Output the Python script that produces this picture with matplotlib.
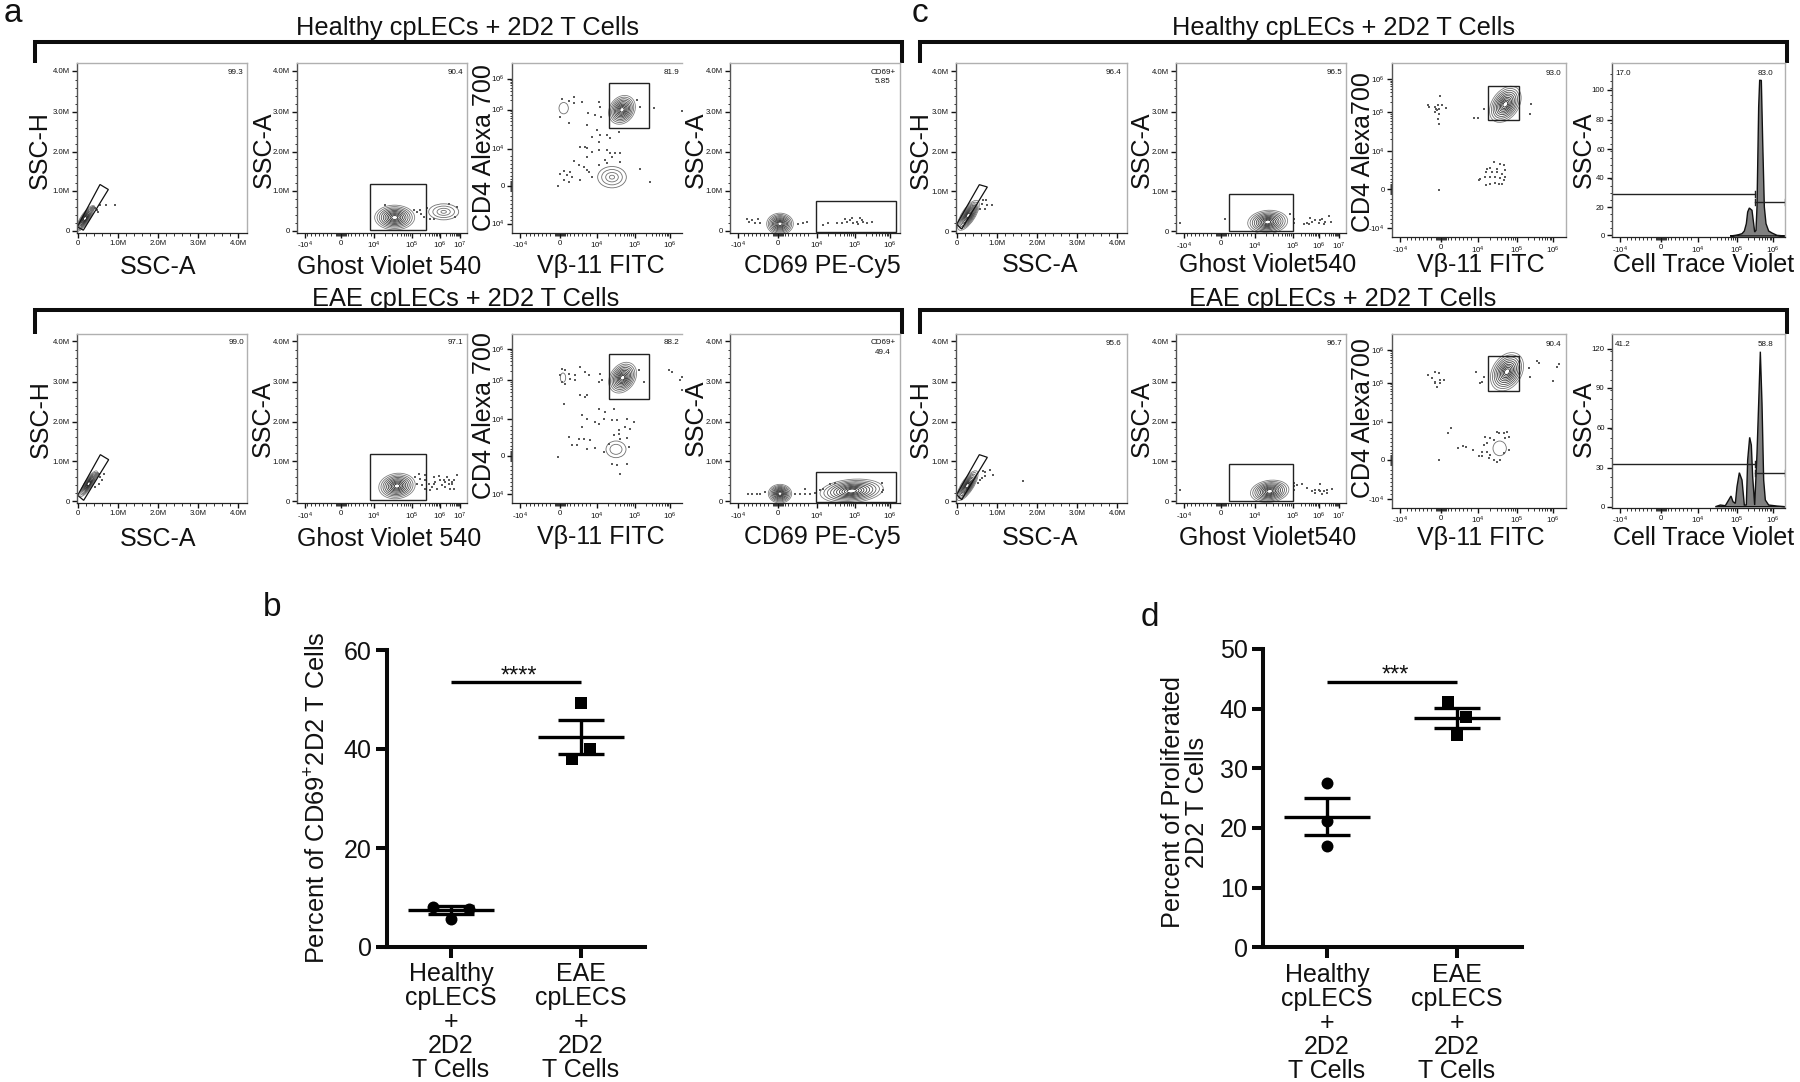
import numpy as np
import matplotlib
matplotlib.use("Agg")
import matplotlib.pyplot as plt
from matplotlib.patches import Ellipse, Polygon, Rectangle

plt.rcParams['font.family'] = ['Liberation Sans', 'DejaVu Sans']
plt.rcParams['mathtext.fontset'] = 'custom'
plt.rcParams['mathtext.rm'] = 'Liberation Sans'
plt.rcParams['mathtext.it'] = 'Liberation Sans'
plt.rcParams['mathtext.bf'] = 'Liberation Sans'
plt.rcParams['mathtext.default'] = 'regular'

W, H = 1800, 1082

# ---------- bottom summary charts ----------
groups = ["Healthy\ncpLECS\n+\n2D2\nT Cells", "EAE\ncpLECS\n+\n2D2\nT Cells"]
b_healthy_x = [-0.14, 0.14, 0.0]
b_healthy_y = [8.1, 7.7, 5.7]
b_eae_x = [0.0, 0.07, -0.07]
b_eae_y = [49.2, 40.1, 37.9]
b_means = [7.5, 42.5]
b_sems = [0.8, 3.45]
d_healthy_x = [0.0, 0.0, 0.0]
d_healthy_y = [27.5, 21.2, 16.9]
d_eae_x = [-0.07, 0.07, 0.0]
d_eae_y = [41.1, 38.6, 35.6]
d_means = [21.9, 38.4]
d_sems = [3.1, 1.65]

# ---------- flow panel text ----------
heading_healthy = "Healthy cpLECs + 2D2 T Cells"
heading_eae = "EAE cpLECs + 2D2 T Cells"
ssc_labels = ["0", "1.0M", "2.0M", "3.0M", "4.0M"]
bi5_labels = ["-10$^{4}$", "0", "10$^{4}$", "10$^{5}$", "10$^{6}$"]
bi6_labels = ["-10$^{4}$", "0", "10$^{4}$", "10$^{5}$", "10$^{6}$", "10$^{7}$"]
ssc_pos = [1, 41, 81, 121, 161]
ssc_y_pos = [2, 42, 81, 121, 162]
ghost_pos = [8, 44, 77, 115, 143, 163]
ghost_c_pos = [8, 45, 79, 117, 143, 163]
vb_pos = [8, 48, 85, 123, 158]
cd4_pos = [9, 47, 84, 123, 154]
cd69_pos = [8, 48, 87, 125, 160]
c_vb_pos = [8, 49, 86, 125, 161]
c_cd4_pos = [9, 48, 86, 125, 158]
hist_y1_pos = [2, 30, 59, 88, 117, 147]
hist_y1_lab = ["0", "20", "40", "60", "80", "100"]
hist_y2_pos = [1, 40, 80, 120, 159]
hist_y2_lab = ["0", "30", "60", "90", "120"]

# ---------- in crop units (3 per pixel) ----------
DENSE = [1, .88, .77, .67, .57, .48, .39, .31, .23, .15, .07]
MID = [1, .78, .58, .4, .22, .08]
SPARSE = [1, .72, .44, .18]
RING = [1]

a1_dots = [(300,615),(318,615),(345,615),(290,630),(270,640),(285,622),(295,635)]
a2_dots = [(1250,635),(1262,640),(1270,650),(1290,655),(1370,620),(1365,650),(1155,615),(1240,630),(1260,630),(1280,622),(1300,655),(1345,612)]
a3_dots = [(275,178),(295,182),(310,170),(312,188),(335,185),(295,250),(270,230),(385,187),(390,200),(352,218),(375,225),(392,232),(350,256),(380,270),(390,285),(410,285),(420,295),(365,290),(385,305),(350,325),(330,320),(345,320),(365,335),(385,330),(410,330),(420,340),(435,340),(450,340),(450,365),(425,350),(405,360),(350,350),(310,362),(325,375),(340,382),(350,390),(385,375),(410,370),(280,392),(300,395),(270,403),(290,405),(305,410),(280,420),(295,425),(330,420),(355,395),(510,388),(540,425),(262,438),(500,180),(550,205),(635,212),(508,200),(365,412),(445,275)]
a4_dots = [(830,538),(838,545),(845,540),(855,550),(865,538),(870,550),(985,552),(1000,548),(1010,545),(1060,555),(1075,548),(1100,550),(1115,548),(1130,545),(1140,540),(1150,550),(1160,545),(1170,535),(1180,545),(1190,548),(1205,545),(1145,535),(1175,540),(1165,552),(1125,538)]
a5_dots = [(240,470),(250,460),(245,480),(235,490),(225,500),(235,460),(220,480)]
a6_dots = [(1185,470),(1200,475),(1215,480),(1190,490),(1205,495),(1215,505),(1225,490),(1240,470),(1255,468),(1270,480),(1280,470),(1295,490),(1300,478),(1310,465),(1235,500),(1250,505),(1265,495),(1275,500),(1290,505),(1300,505),(1245,485),(1260,480),(1285,490),(1230,510),(1215,465),(1195,460),(1240,490),(1295,485),(1275,485),(1285,478)]
a7_dots = [(275,145),(285,150),(270,165),(295,160),(275,185),(285,190),(300,175),(315,180),(330,140),(345,155),(355,165),(315,165),(390,160),(385,185),(395,180),(330,225),(350,225),(345,230),(280,250),(385,265),(405,275),(430,265),(335,285),(350,295),(335,320),(375,305),(385,310),(400,295),(425,300),(440,300),(470,295),(490,305),(465,320),(480,325),(445,340),(430,345),(450,355),(470,352),(295,350),(325,355),(340,355),(360,360),(305,375),(320,375),(350,385),(375,382),(400,395),(415,372),(475,380),(440,435),(425,430),(470,430),(450,460),(520,185),(505,150),(595,148),(605,155),(628,178),(635,170),(635,210),(262,410),(445,330)]
a8_dots = [(835,520),(845,520),(860,520),(870,520),(885,515),(975,520),(990,520),(1005,520),(1020,522),(1035,518),(1050,510),(1060,505),(1080,490),(1095,488),(1005,505),(1235,488),(1240,510),(1235,515)]
c1_dots = [(228,480),(232,495),(245,495),(225,507),(215,490),(210,505),(220,480)]
c2_dots = [(810,548),(945,537),(1150,535),(1150,548),(1140,520),(1180,552),(1190,548),(1200,532),(1205,545),(1215,540),(1225,548),(1235,535),(1245,545),(1255,528),(1262,545),(1240,552),(1230,540),(1195,550)]
c3_dots = [(263,195),(265,200),(285,200),(300,167),(293,195),(305,195),(316,203),(290,210),(285,215),(295,220),(293,235),(295,250),(288,205),(295,205),(400,233),(413,233),(430,207),(572,192),(570,222),(295,448),(462,365),(480,370),(490,375),(440,385),(450,382),(470,385),(495,390),(438,395),(455,395),(470,395),(485,400),(415,420),(435,410),(450,410),(465,410),(480,412),(495,410),(420,415),(438,433),(450,430),(465,428),(475,430),(485,430),(490,418)]
c5_dots = [(205,490),(215,475),(225,470),(240,450),(248,465),(218,455),(225,458),(210,480),(340,483)]
c6_dots = [(810,510),(1150,490),(1150,500),(1160,495),(1150,512),(1175,493),(1190,505),(1205,515),(1215,520),(1230,492),(1225,510),(1240,515),(1250,510),(1265,507),(1235,522),(1250,520),(1215,510),(1230,515)]
c7_dots = [(263,165),(285,155),(295,160),(275,175),(285,185),(300,180),(310,180),(283,190),(290,200),(300,190),(407,157),(430,170),(425,185),(418,190),(565,145),(570,170),(590,122),(597,130),(650,140),(657,133),(637,183),(333,323),(323,338),(352,385),(367,378),(378,382),(397,390),(295,420),(470,335),(475,340),(490,340),(500,335),(505,350),(495,355),(460,360),(450,355),(435,352),(440,370),(430,375),(425,395),(440,395),(450,405),(425,408),(415,408),(445,415),(460,420),(470,425),(480,420),(490,400),(505,390)]

c4_hist = [(1170,587),(1185,585),(1195,583),(1205,580),(1212,572),(1218,550),(1222,515),(1227,503),(1235,510),(1240,550),(1243,575),(1247,570),(1250,500),(1255,200),(1258,120),(1263,120),(1267,300),(1272,500),(1277,550),(1285,572),(1295,578),(1310,585),(1335,587)]
c8_hist = [(1125,560),(1140,555),(1155,557),(1165,540),(1172,528),(1178,545),(1185,550),(1190,500),(1197,458),(1205,480),(1212,555),(1218,555),(1222,420),(1228,352),(1233,375),(1237,470),(1243,555),(1250,400),(1255,250),(1260,95),(1265,250),(1270,480),(1275,540),(1285,555),(1310,558),(1335,560)]

fsc_gate_a1 = [(232,680),(250,690),(325,568),(300,553)]
fsc_gate_a5 = [(172,525),(190,540),(265,418),(240,403)]
fsc_gate_c1 = [(140,552),(155,566),(232,440),(208,433)]
fsc_gate_c5 = [(140,525),(155,540),(232,413),(208,405)]

PANELS = [
 dict(box=(77,63,247,232.5), o=(231,697), kind='ssc', blobs=[(255,655,45,13,57,DENSE),(278,625,9,5,57,MID)], poly=fsc_gate_a1, dots=a1_dots, notes=[("99.3",705,218)]),
 dict(box=(297,63,467,232.5), o=(890,697), kind='ghost', xp=ghost_pos, blobs=[(1183,652,60,37,0,DENSE),(1330,635,45,24,0,SPARSE)], rect=(1108,550,1277,689), dots=a2_dots, notes=[("90.4",1365,218)]),
 dict(box=(512,63,682,232.5), o=(125,578), kind='cd4', xp=vb_pos, yp=cd4_pos, blobs=[(455,210,46,37,55,DENSE),(280,205,14,17,0,RING),(425,412,43,32,0,SPARSE)], rect=(416,130,536,265), dots=a3_dots, notes=[("81.9",603,98)], noright=True),
 dict(box=(730,63,900,232.5), o=(780,578), kind='ghost', xp=cd69_pos, blobs=[(930,552,40,32,0,DENSE)], rect=(1037,484,1277,575), dots=a4_dots, notes=[("CD69+",1240,98),("5.85",1238,125)]),
 dict(box=(77,333.5,247,503), o=(170,548), kind='ssc', blobs=[(205,490,45,12,57,DENSE),(228,465,10,5,57,MID)], poly=fsc_gate_a5, dots=a5_dots, notes=[("99.0",648,68)]),
 dict(box=(297,333.5,467,503), o=(830,548), kind='ghost', xp=ghost_pos, blobs=[(1130,497,55,38,8,DENSE)], rect=(1049,400,1217,539), dots=a6_dots, notes=[("97.1",1305,68)]),
 dict(box=(512,333.5,682,503), o=(125,548), kind='cd4', xp=vb_pos, yp=cd4_pos, blobs=[(457,172,50,37,55,DENSE),(278,172,8,14,0,RING),(437,387,30,25,0,[1,.6])], rect=(416,100,536,235), dots=a7_dots, notes=[("88.2",602,68)], noright=True),
 dict(box=(730,333.5,900,503), o=(780,548), kind='ghost', xp=cd69_pos, blobs=[(930,520,35,28,0,DENSE),(1145,512,95,35,5,DENSE)], rect=(1037,454,1277,545), dots=a8_dots, notes=[("CD69+",1240,68),("49.4",1238,95)]),
 dict(box=(956,63,1127,233), o=(138,578), kind='ssc', blobs=[(175,525,52,20,57,DENSE),(192,505,12,8,57,SPARSE)], poly=fsc_gate_c1, dots=c1_dots, notes=[("96.4",612,98)]),
 dict(box=(1176,63,1346,233), o=(797,578), kind='ghost', xp=ghost_c_pos, blobs=[(1072,545,60,35,5,DENSE)], rect=(955,462,1147,573), dots=c2_dots, notes=[("96.5",1272,98)]),
 dict(box=(1392,63,1566,237), o=(155,590), kind='cd4', xp=c_vb_pos, yp=c_cd4_pos, blobs=[(495,192,60,40,55,DENSE)], rect=(442,137,536,240), dots=c3_dots, notes=[("93.0",640,100)]),
 dict(box=(1612,63,1785,237), o=(815,590), kind='hist', xp=c_vb_pos, yp=hist_y1_pos, yl=hist_y1_lab, hist=c4_hist, gates=[(815,1243,460),(1243,1335,486)], notes=[("17.0",848,100),("83.0",1275,100)]),
 dict(box=(956,334,1127,503), o=(138,550), kind='ssc', blobs=[(172,498,52,18,57,DENSE)], poly=fsc_gate_c5, dots=c5_dots, notes=[("95.6",612,71)]),
 dict(box=(1176,334,1346,503), o=(797,550), kind='ghost', xp=ghost_c_pos, blobs=[(1078,515,58,33,8,DENSE)], rect=(955,434,1147,545), dots=c6_dots, notes=[("96.7",1272,71)]),
 dict(box=(1392,334,1566,507.7), o=(155,563), kind='cd4', xp=c_vb_pos, yp=c_cd4_pos, blobs=[(500,155,62,44,58,DENSE),(478,385,20,22,0,RING)], rect=(442,108,536,212), dots=c7_dots, notes=[("90.4",640,73)]),
 dict(box=(1612,334,1785,507.7), o=(815,563), kind='hist', xp=c_vb_pos, yp=hist_y2_pos, yl=hist_y2_lab, hist=c8_hist, gates=[(815,1243,433),(1243,1335,459)], notes=[("41.2",847,73),("58.8",1275,73)]),
]

# big axis labels: text, x centre, y centre (figure pixels)
XLABELS = [("SSC-A",158,267),("Ghost Violet 540",389,267),("V\u03b2-11 FITC",601,266),("CD69 PE-Cy5",822,266),
           ("SSC-A",158,539),("Ghost Violet 540",389,539),("V\u03b2-11 FITC",601,537),("CD69 PE-Cy5",822,537),
           ("SSC-A",1040,265),("Ghost Violet540",1268,265),("V\u03b2-11 FITC",1481,265),("Cell Trace Violet",1704,265),
           ("SSC-A",1040,538),("Ghost Violet540",1268,538),("V\u03b2-11 FITC",1481,538),("Cell Trace Violet",1704,538)]
YLABELS = [("SSC-H",40,150),("SSC-A",264,150),("CD4 Alexa 700",484,148),("SSC-A",696,150),
           ("SSC-H",41,419),("SSC-A",263,419),("CD4 Alexa 700",484,416),("SSC-A",696,418),
           ("SSC-H",921,150),("SSC-A",1142,150),("CD4 Alexa700",1363,152),("SSC-A",1584,150),
           ("SSC-H",921,419),("SSC-A",1142,419),("CD4 Alexa700",1363,418),("SSC-A",1584,419)]
HEADINGS = [(heading_healthy,467,28),(heading_eae,466,299),(heading_healthy,1344,28),(heading_eae,1343,299)]
BRACKETS = [(35,902,42,63),(35,902,310,334),(920,1787,42,63),(920,1787,310,334)]
LETTERS = [("a",13,14),("b",272,607),("c",920,14),("d",1150,617)]
CONTOUR_SHADES = ['#808080', '#6e6e6e', '#5e5e5e', '#505050', '#454545', '#3c3c3c', '#343434', '#2e2e2e', '#2a2a2a', '#262626', '#ffffff']

fig = plt.figure(figsize=(W/100, H/100), dpi=100, facecolor='white')
ov = fig.add_axes([0, 0, 1, 1], zorder=0)
ov.set_xlim(0, W); ov.set_ylim(H, 0); ov.axis('off')

for x0, x1, yt, yb in BRACKETS:
    ov.plot([x0, x0, x1, x1], [yb, yt, yt, yb], color='#0d0d0d', lw=2.9, solid_joinstyle='miter', solid_capstyle='butt')
for s, x, y in HEADINGS:
    ov.text(x, y, s, fontsize=18.3, ha='center', va='center', color='#111')
for s, x, y in XLABELS:
    ov.text(x, y, s, fontsize=18, ha='center', va='center', color='#111')
for s, x, y in YLABELS:
    ov.text(x, y, s, fontsize=18, ha='center', va='center', rotation=90, color='#111')
for s, x, y in LETTERS:
    ov.text(x, y, s, fontsize=24, ha='center', va='center', color='#111')


def biex_minor(pos):
    out = []
    z = pos[1]
    out += [z + d for d in (-5, -4, -3, -2, -1, 0, 1, 2, 3, 4, 5)]
    out += [z + d for d in (-34, -30, -26, -22, -18, -14, -10, 7, 10, 14, 18, 22, 26, 30)]
    for a, b in zip(pos[2:-1], pos[3:]):
        out += [a + (b - a) * np.log10(k) for k in range(2, 10)]
    return [v for v in out if v >= 0]


def flow_panel(p):
    L, T, R, B = p['box']
    ox, oy = p['o']
    ax = fig.add_axes([L/W, 1 - B/H, (R-L)/W, (B-T)/H], zorder=2)
    ax.set_xlim(0, R-L); ax.set_ylim(0, B-T)
    cx = lambda v: (v - ox) / 3
    cy = lambda v: (oy - v) / 3

    for sp in ('top', 'right', 'left'):
        ax.spines[sp].set_color('#b0b0b0'); ax.spines[sp].set_linewidth(1.0)
    ax.spines['bottom'].set_color('#222'); ax.spines['bottom'].set_linewidth(0.9)
    ax.spines['left'].set_color('#555')
    if p.get('noright'):
        ax.spines['right'].set_visible(False)

    if p['kind'] == 'ssc':
        ax.set_xticks(ssc_pos, ssc_labels)
        ax.set_xticks([a + 8*k for a in ssc_pos[:-1] for k in (1, 2, 3, 4)], minor=True)
    else:
        xp = p['xp']
        lab = bi6_labels if len(xp) == 6 else bi5_labels
        ax.set_xticks(xp, lab)
        ax.set_xticks(biex_minor(xp), minor=True)
    if p['kind'] in ('ssc', 'ghost'):
        ax.set_yticks(ssc_y_pos, ssc_labels)
        ax.set_yticks([a + 8*k for a in ssc_y_pos[:-1] for k in (1, 2, 3, 4)], minor=True)
    elif p['kind'] == 'cd4':
        ax.set_yticks(p['yp'], ["-10$^{4}$" if p['box'][0] > 1000 else "10$^{4}$", "0", "10$^{4}$", "10$^{5}$", "10$^{6}$"])
        ax.set_yticks(biex_minor(p['yp']), minor=True)
    else:
        ax.set_yticks(p['yp'], p['yl'])
        yp = p['yp']
        step = (yp[1] - yp[0]) / 4
        ax.set_yticks([yp[0] + step*k for k in range(int((B-T) / step)) if yp[0] + step*k < B-T], minor=True)
    ax.tick_params(which='major', length=3.5, width=1.0, color='#111', labelsize=5.6, pad=1.8, labelcolor='#111')
    ax.tick_params(which='minor', length=1.8, width=0.7, color='#333')

    for bx, by, rx, ry, ang, lev in p.get('blobs', []):
        for i, k in enumerate(lev):
            shade = CONTOUR_SHADES[int(round(i * (len(CONTOUR_SHADES) - 1) / max(len(DENSE) - 1, 1)))] if len(lev) == len(DENSE) else '#707070'
            ax.add_patch(Ellipse((cx(bx), cy(by)), 2*rx*k/3, 2*ry*k/3, angle=ang, fill=False,
                                 ec=shade, lw=0.6))
    if p.get('dots'):
        d = np.array(p['dots'])
        ax.scatter(cx(d[:, 0]), cy(d[:, 1]), s=0.7, marker='s', c='#5a5a5a', linewidths=0)
    if 'rect' in p:
        x0, y0, x1, y1 = p['rect']
        ax.add_patch(Rectangle((cx(x0), cy(y1)), (x1-x0)/3, (y1-y0)/3, fill=False, ec='#222', lw=1.0))
    if 'poly' in p:
        ax.add_patch(Polygon([(cx(a), cy(b)) for a, b in p['poly']], closed=True, fill=False, ec='#111', lw=0.9))
    if 'hist' in p:
        h = np.array(p['hist'])
        ax.fill(cx(h[:, 0]), cy(h[:, 1]), fc='#808080', ec='#111', lw=1.0)
        for a, b, yy in p['gates']:
            ax.plot([cx(a), cx(b)], [cy(yy), cy(yy)], color='#222', lw=1.0)
            for e in (a, b):
                if e != ox:
                    ax.plot([cx(e), cx(e)], [cy(yy) - 3, cy(yy) + 3], color='#222', lw=1.0)
    for s, x, y in p['notes']:
        ax.text(cx(x), cy(y), s, fontsize=5.8, ha='center', va='center', color='#111')


for panel in PANELS:
    flow_panel(panel)


def summary(box, ymax, yticks, hx, hy, ex, ey, means, sems, sig_y, stars, star_y, xlim):
    L, T, R, B = box
    ax = fig.add_axes([L/W, 1 - B/H, (R-L)/W, (B-T)/H], zorder=2)
    ax.set_xlim(*xlim); ax.set_ylim(0, ymax)
    for sp in ('top', 'right'):
        ax.spines[sp].set_visible(False)
    for sp in ('left', 'bottom'):
        ax.spines[sp].set_linewidth(2.9); ax.spines[sp].set_color('#0a0a0a')
    ax.set_yticks(yticks)
    ax.set_xticks([1, 2], groups, linespacing=1.0)
    ax.tick_params(length=8, width=2.9, labelsize=18, pad=3, color='#0a0a0a', labelcolor='#111')
    ax.patch.set_alpha(0)
    ax.plot(1 + np.array(hx), hy, 'o', color='black', ms=8.6, mew=0, clip_on=False)
    ax.plot(2 + np.array(ex), ey, 's', color='black', ms=8.4, mew=0, clip_on=False)
    ax.hlines(means, [0.67, 1.67], [1.33, 2.33], color='black', lw=2.4)
    ax.errorbar([1, 2], means, yerr=sems, fmt='none', ecolor='black', elinewidth=2.4, capsize=16.5, capthick=2.4)
    ax.plot([1, 2], [sig_y, sig_y], color='black', lw=2.4, solid_capstyle='butt')
    ax.text(1.525, star_y, stars, fontsize=17, ha='center', va='center', color='#111')


summary((387, 650, 645, 947), 60, [0, 20, 40, 60], b_healthy_x, b_healthy_y, b_eae_x, b_eae_y,
        b_means, b_sems, 53.5, "****", 54.7, (0.508, 2.492))
summary((1263, 649, 1522, 947.3), 50, [0, 10, 20, 30, 40, 50], d_healthy_x, d_healthy_y, d_eae_x, d_eae_y,
        d_means, d_sems, 44.4, "***", 45.6, (0.508, 2.5))

ov.text(318, 798, "Percent of CD69$^{+}$2D2 T Cells", fontsize=18.3, rotation=90, ha='center', va='center', color='#111')
ov.text(1185, 802, "Percent of Proliferated\n2D2 T Cells", fontsize=18.2, rotation=90, ha='center', va='center',
        color='#111', linespacing=0.95, multialignment='center')

fig.savefig("out.png", dpi=100, facecolor='white')
